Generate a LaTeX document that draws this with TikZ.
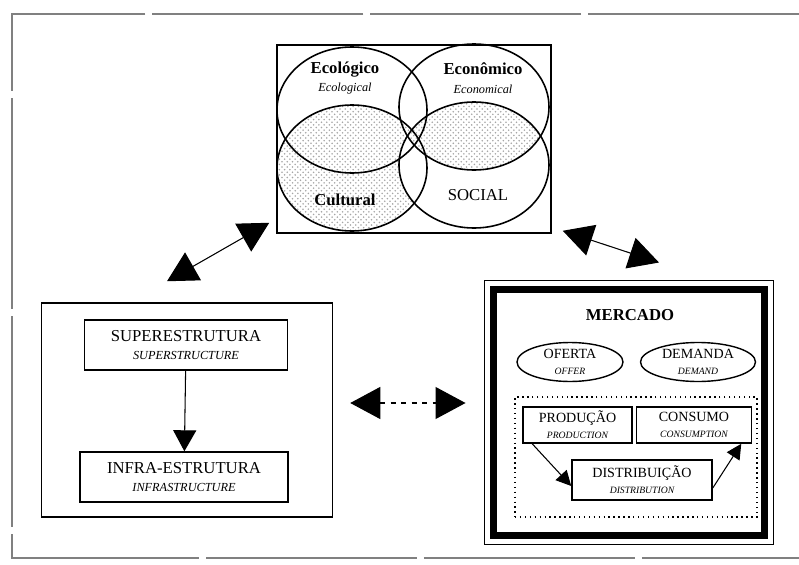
\documentclass[tikz,border=0pt]{standalone}
\usepackage{fontspec}
\setmainfont{Liberation Serif}
\usetikzlibrary{arrows.meta,positioning,calc,shapes.geometric,patterns}
\newcommand\trad[1]{{\fontsize{7}{8}\selectfont\itshape #1}}
\newcommand\trads[1]{{\fontsize{5.5}{6.5}\selectfont\itshape #1}}

\begin{document}
\begin{tikzpicture}[x=0.02cm,y=-0.02cm,>={Triangle[length=0.6cm,width=0.64cm]},
    caixa/.style={draw,line width=0.8pt,inner sep=0pt,align=center,font=\fontsize{9.5}{10.5}\selectfont},
    caixap/.style={draw,line width=0.9pt,inner sep=0pt,align=center,font=\fontsize{8}{9}\selectfont},
    oval/.style={draw,line width=0.8pt,ellipse,inner sep=0pt,align=center,font=\fontsize{8}{9}\selectfont},
    rotulo/.style={align=center,inner sep=1pt,font=\fontsize{9.5}{10.5}\selectfont},
    pontos/.style={pattern=crosshatch dots,pattern color=black!35},
    liga/.style={line width=0.6pt}]
    \useasboundingbox (0,0) rectangle (799,565);
    \draw[black!50,line width=0.6pt,dash pattern=on 120pt off 4pt] (799,14) -- (12,14) -- (12,558) -- (799,558);
    % Venn
    \node[draw,line width=0.9pt,minimum width=5.48cm,minimum height=3.76cm] (venn) at (414,139) {};
    \begin{scope}
      \clip (352,168) ellipse [x radius=75,y radius=63];
      \fill[pontos,even odd rule] (474,165) ellipse [x radius=75,y radius=63] (270,90) rectangle (560,240);
    \end{scope}
    \begin{scope}
      \clip (474,107) ellipse [x radius=75,y radius=63];
      \fill[pontos] (474,165) ellipse [x radius=75,y radius=63];
    \end{scope}
    \foreach \cx/\cy in {352/110,474/107,352/168,474/165}
      \draw[line width=0.9pt] (\cx,\cy) ellipse [x radius=75,y radius=63];
    \node[rotulo] (ecol) at (345,78) {\textbf{Ecológico}\\\trad{Ecological}};
    \node[rotulo] (econ) at (483,78) {\textbf{Econômico}\\\trad{Economical}};
    \node[rotulo] (cult) at (345,200) {\textbf{Cultural}};
    \node[rotulo] (soc) at (478,195) {SOCIAL};
    % estrutura
    \node[draw,line width=0.9pt,minimum width=5.82cm,minimum height=4.28cm] (sociedade) at (187,410) {};
    \node[caixa,minimum width=4.06cm,minimum height=1cm] (super) at (186,345) {SUPERESTRUTURA\\\trad{SUPERSTRUCTURE}};
    \node[caixa,minimum width=4.16cm,minimum height=1cm] (infra) at (184,477) {INFRA-ESTRUTURA\\\trad{INFRASTRUCTURE}};
    \draw[->,liga,>={Triangle[length=0.42cm,width=0.46cm]}] (super) -- (infra);
    % mercado
    \node[draw,line width=0.14cm,minimum width=5.44cm,minimum height=4.94cm] (mercado) at (629,412.5) {};
    \draw[line width=0.7pt] ($(mercado.north west)+(-5,-5)$) rectangle ($(mercado.south east)+(5,5)$);
    \node[rotulo] (titmerc) at (630,315) {\textbf{MERCADO}};
    \node[oval,minimum width=2.12cm,minimum height=0.78cm] (oferta) at (570,362) {OFERTA\\\trads{OFFER}};
    \node[oval,minimum width=2.3cm,minimum height=0.78cm] (demanda) at (698,362) {DEMANDA\\\trads{DEMAND}};
    \node[draw,dotted,line width=0.8pt,minimum width=4.84cm,minimum height=2.4cm] (circuito) at (636,457) {};
    \node[caixap,minimum width=2.18cm,minimum height=0.72cm] (producao) at (577.5,425) {PRODUÇÃO\\\trads{PRODUCTION}};
    \node[caixap,minimum width=2.3cm,minimum height=0.72cm] (consumo) at (694,425) {CONSUMO\\\trads{CONSUMPTION}};
    \node[caixap,minimum width=2.8cm,minimum height=0.8cm] (distribuicao) at (642,480) {DISTRIBUIÇÃO\\\trads{DISTRIBUTION}};
    \draw[->,liga,>={Triangle[length=0.3cm,width=0.3cm]}] ($(producao.south west)+(10,0)$) -- ($(distribuicao.west)+(0,6)$);
    \draw[->,liga,>={Triangle[length=0.3cm,width=0.3cm]}] ($(distribuicao.east)+(0,8)$) -- ($(consumo.south east)+(-11,0)$);
    % ligacoes
    \coordinate (a1) at ($(venn.south west)+(-7,-11)$);
    \coordinate (b1) at ($(sociedade.north)+(-20,-21)$);
    \coordinate (a2) at ($(venn.south east)+(11,-3)$);
    \coordinate (b2) at ($(mercado.north)+(30,-23)$);
    \coordinate (a3) at ($(sociedade.east)+(17,-7)$);
    \coordinate (b3) at ($(mercado.west)+(-24,-9.5)$);
    \draw[<->,liga] (b1) -- (a1);
    \draw[<->,liga] (a2) -- (b2);
    \draw[<->,liga,dashed] (a3) -- (b3);
\end{tikzpicture}
\end{document}
